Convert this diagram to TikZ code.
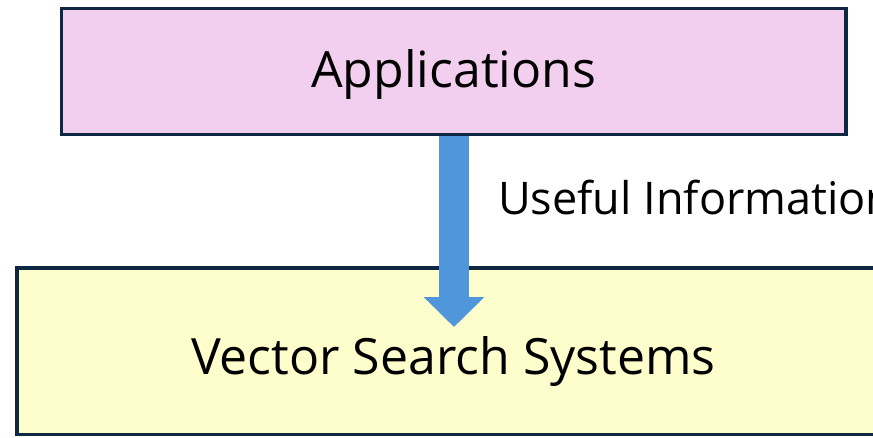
\documentclass[tikz,border=0pt]{standalone}
\usepackage{fontspec}
\setmainfont{Open Sans}
\usepackage{xcolor}
\usetikzlibrary{arrows.meta,positioning}

\definecolor{appfill}{HTML}{F2CFEE}
\definecolor{vssfill}{HTML}{FEFECC}
\definecolor{boxline}{HTML}{0E2841}
\definecolor{flowblue}{HTML}{4F97DA}

\begin{document}
\begin{tikzpicture}[x=1pt,y=-1pt,font=\fontsize{45}{50}\selectfont]
  \tikzstyle{layer}=[draw=boxline,line width=3.5pt,inner sep=0pt,rectangle,text depth=0pt,font=\fontsize{50}{56}\selectfont]
  \useasboundingbox (0,0) rectangle (873,437);
  \clip (0,0) rectangle (873,437);
  \node[layer,fill=appfill,minimum width=784.5pt,minimum height=126pt,text height=31pt] (apps) at (453.75,71.5) {Applications};
  \node[layer,fill=vssfill,minimum width=873pt,minimum height=166.5pt,text height=47pt] (vss) at (453.5,351.25) {Vector Search Systems};
  \coordinate (tip) at (454,327);
  % information flows down into the search layer
  \draw[flowblue,line width=30pt,-{Triangle[width=59pt,length=30pt]}] (apps.south -| tip) -- (tip);
  \node[anchor=base west,inner sep=0pt] (info) at (498,214) {Useful Information};
\end{tikzpicture}
\end{document}
